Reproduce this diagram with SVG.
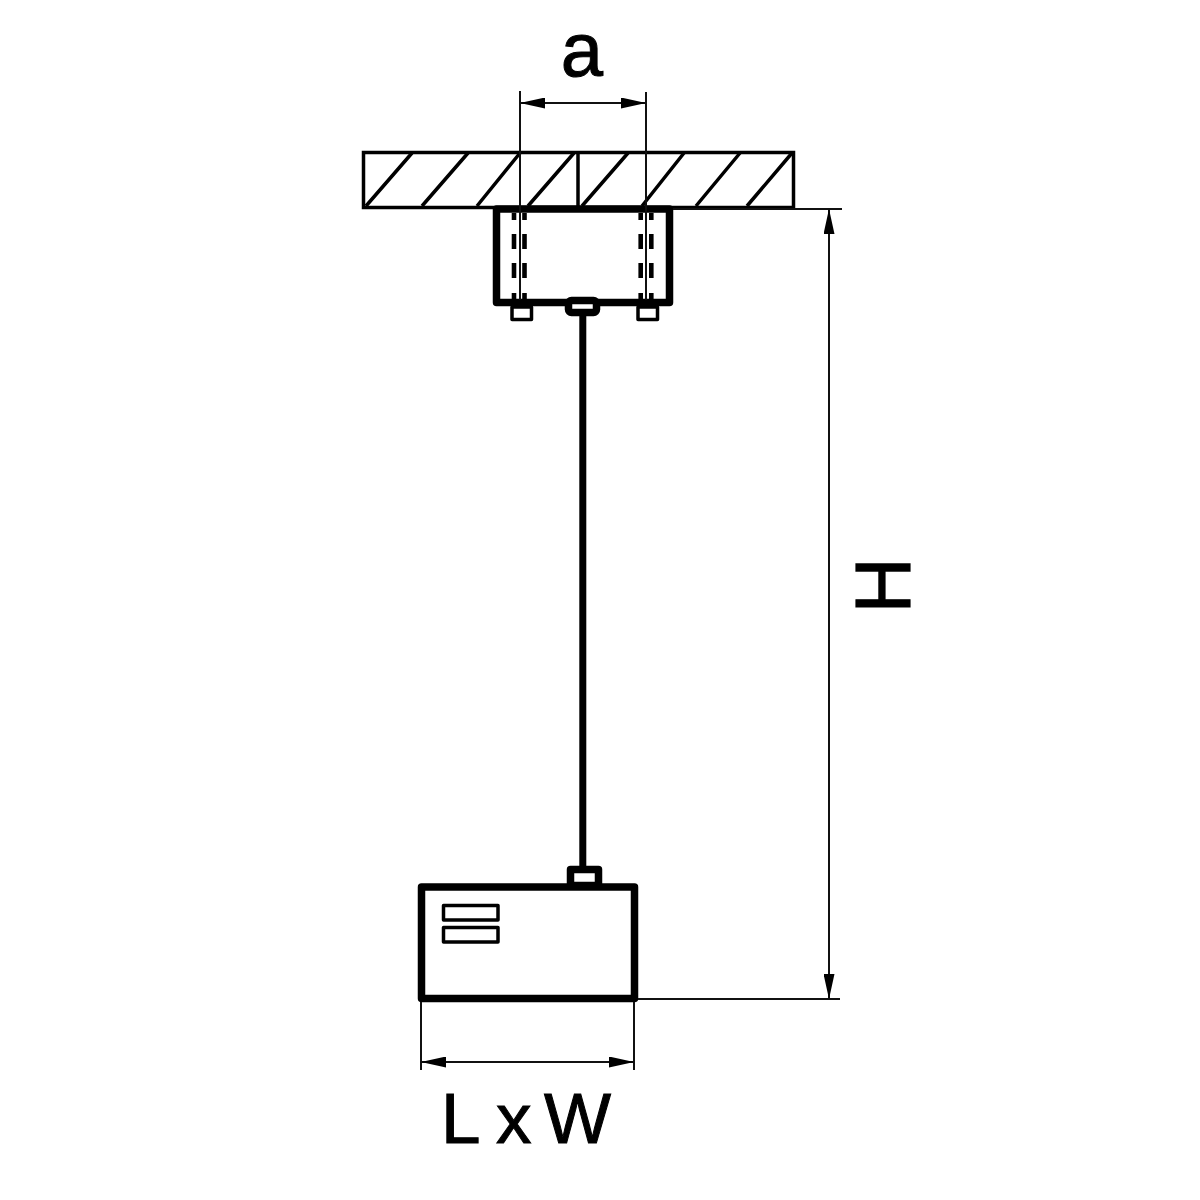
<svg xmlns="http://www.w3.org/2000/svg" width="1200" height="1200" viewBox="0 0 1200 1200">
  <style>
    .thin { stroke: #111; stroke-width: 2; fill: none; }
    .hatch { stroke: #000; stroke-width: 3.5; fill: none; }
    .heavy { stroke: #000; stroke-width: 7.5; fill: none; stroke-linejoin: round; }
    .mid { stroke: #000; stroke-width: 3.5; fill: #fff; stroke-linejoin: round; }
    .dash { stroke: #000; stroke-width: 4.6; fill: none; }
    .lbl { font-family: "Liberation Sans", Arial, sans-serif; fill: #000; stroke: #000; }
  </style>
  <defs>
    <marker id="arrow" viewBox="0 0 25 11" refX="25" refY="5.5" markerWidth="25" markerHeight="11" markerUnits="userSpaceOnUse" orient="auto-start-reverse">
      <path d="M0 0 L25 5.5 L0 11 Z" fill="#000"/>
    </marker>
  </defs>
  <rect width="1200" height="1200" fill="#fff"/>

  <g id="ceiling">
    <rect class="hatch" x="363.500" y="152.500" width="430" height="55"/>
    <path class="hatch" d="M578 152V207"/>
    <path class="hatch" d="M366 206L412 153M422 206L468 153M477 206L520 153M528 206L574 153M582 206L628 153M642 206L684 153M696 206L740 153M747 206L792 153"/>
  </g>

  <g id="canopy">
    <rect class="mid" x="512" y="307" width="19.500" height="12.500"/>
    <rect class="mid" x="638" y="307" width="19.500" height="12.500"/>
    <rect class="heavy" x="496.500" y="209" width="173" height="93.500"/>
    <path class="dash" d="M514 213V220M514 234V249M514 263V278M514 293V300M524.500 213V220M524.500 234V249M524.500 263V278M524.500 293V300M640.700 213V220M640.700 234V249M640.700 263V278M640.700 293V300M651.300 213V220M651.300 234V249M651.300 263V278M651.300 293V300"/>
    <rect x="568.500" y="300.500" width="28" height="12" rx="3" fill="#fff" stroke="#000" stroke-width="7.500" stroke-linejoin="round"/>
  </g>

  <g id="rod">
    <path d="M582.800 316V868" stroke="#000" stroke-width="7" fill="none"/>
  </g>

  <g id="shade">
    <rect x="570.500" y="869.500" width="28" height="16" fill="#fff" stroke="#000" stroke-width="7.500" stroke-linejoin="round"/>
    <rect class="heavy" x="421.500" y="887" width="213" height="111.500"/>
    <rect class="mid" x="443.500" y="905.500" width="54.500" height="14.500"/>
    <rect class="mid" x="443.500" y="927.500" width="54.500" height="14.500"/>
  </g>

  <g id="connectors">
    <path class="thin" d="M520 91V300M646 92V300"/>
    <path class="thin" d="M520 103H646" marker-start="url(#arrow)" marker-end="url(#arrow)"/>
    <path class="thin" d="M673 209H842M638 999H840"/>
    <path class="thin" d="M829 209V999" marker-start="url(#arrow)" marker-end="url(#arrow)"/>
    <path class="thin" d="M421 1002V1070M634 1002V1070"/>
    <path class="thin" d="M421 1062H634" marker-start="url(#arrow)" marker-end="url(#arrow)"/>
  </g>

  <g id="labels">
    <text class="lbl" x="582" y="75.500" font-size="76" text-anchor="middle" stroke-width="1">a</text>
    <text class="lbl" transform="translate(909.500 585.500) rotate(-90)" font-size="77" text-anchor="middle" stroke-width="1.200">H</text>
    <text class="lbl" x="441 480 496 530 544" y="1142.500" font-size="71" stroke-width="1">L x W</text>
  </g>
</svg>
